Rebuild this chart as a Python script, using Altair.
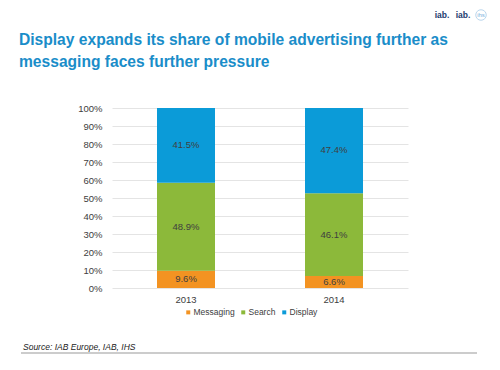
import altair as alt
import pandas as pd

years = ["2013", "2014"]
categories = ["Messaging", "Search", "Display"]
messaging = [9.6, 6.6]
search = [48.9, 46.1]
display = [41.5, 47.4]
colors = ["#f39322", "#8cb93a", "#0b9bd8"]
y_ticks = [0, 10, 20, 30, 40, 50, 60, 70, 80, 90, 100]
title_lines = ["Display expands its share of mobile advertising further as",
               "messaging faces further pressure"]

rows = []
for i, yr in enumerate(years):
    for j, (cat, vals) in enumerate(zip(categories, [messaging, search, display])):
        rows.append({"year": yr, "category": cat, "value": vals[i], "order": j})
df = pd.DataFrame(rows)

FONT = "Liberation Sans"

x_axis = alt.Axis(labelAngle=0, domain=False, ticks=False, labelPadding=6, grid=False,
                  labelFontSize=9.5, labelColor="#404040", labelFont=FONT, title=None)
y_axis = alt.Axis(values=y_ticks, labelExpr="datum.value + '%'", domain=False,
                  ticks=False, labelPadding=10, grid=True, gridColor="#e4e4e4",
                  labelOverlap=False, labelFontSize=9.5, labelColor="#404040",
                  labelFont=FONT, title=None)
y_scale = alt.Scale(domain=[0, 100], clamp=True, nice=False)
x_scale = alt.Scale(paddingInner=0, paddingOuter=0)

base = alt.Chart(df)

bars = base.mark_bar(width=58).encode(
    x=alt.X("year:N", scale=x_scale, axis=x_axis),
    y=alt.Y("value:Q", stack="zero", scale=y_scale, axis=y_axis),
    color=alt.Color("category:N", sort=categories,
                    scale=alt.Scale(domain=categories, range=colors),
                    legend=alt.Legend(title=None, orient="none", direction="horizontal",
                                      legendX=72, legendY=200, symbolType="square",
                                      symbolSize=16, labelFontSize=8.5, labelColor="#404040",
                                      labelFont=FONT, columnPadding=4, labelOffset=1)),
    order=alt.Order("order:Q"),
)

labels = base.transform_stack(
    stack="value", groupby=["year"], sort=[alt.SortField("order")], as_=["y0", "y1"]
).transform_calculate(
    mid="(datum.y0 + datum.y1) / 2",
    label="format(datum.value, '.1f') + '%'",
).mark_text(fontSize=9.5, color="#404040", font=FONT).encode(
    x=alt.X("year:N", scale=x_scale, axis=x_axis),
    y=alt.Y("mid:Q", scale=y_scale, axis=y_axis),
    text="label:N",
)

title1 = alt.Chart(pd.DataFrame({"t": [title_lines[0]]})).mark_text(
    align="left", baseline="middle", fontSize=15.6, fontWeight="bold", color="#1a8dc9", font=FONT
).encode(x=alt.value(-93), y=alt.value(-68), text="t:N")
title2 = alt.Chart(pd.DataFrame({"t": [title_lines[1]]})).mark_text(
    align="left", baseline="middle", fontSize=15.6, fontWeight="bold", color="#1a8dc9", font=FONT
).encode(x=alt.value(-93), y=alt.value(-46), text="t:N")

src_df = pd.DataFrame({"t": ["Source: IAB Europe, IAB, IHS"]})
source = alt.Chart(src_df).mark_text(
    align="left", baseline="middle", fontSize=8.5, fontStyle="italic", color="#222222", font=FONT
).encode(x=alt.value(-89), y=alt.value(239), text="t:N")

rule = alt.Chart(src_df).mark_rule(color="#999999", strokeWidth=1).encode(
    x=alt.value(-91), x2=alt.value(365), y=alt.value(245)
)

logo1 = alt.Chart(pd.DataFrame({"t": ["iab."]})).mark_text(
    align="center", baseline="middle", fontSize=8.5, fontWeight="bold", color="#1c3a6e", font=FONT
).encode(x=alt.value(330), y=alt.value(-93), text="t:N")
logo2 = alt.Chart(pd.DataFrame({"t": ["iab."]})).mark_text(
    align="center", baseline="middle", fontSize=8.5, fontWeight="bold", color="#1c3a6e", font=FONT
).encode(x=alt.value(351), y=alt.value(-93), text="t:N")

ihs_df = pd.DataFrame({"t": ["ihs"]})
ihs_circle = alt.Chart(ihs_df).mark_point(
    shape="circle", size=110, color="#9ec6e6", strokeWidth=1
).encode(x=alt.value(369), y=alt.value(-93))
ihs_text = alt.Chart(ihs_df).mark_text(
    fontSize=6, color="#7fb2dc", font=FONT
).encode(x=alt.value(369), y=alt.value(-93), text="t:N")

chart = alt.layer(bars, labels, title1, title2, source, rule, logo1, logo2,
                  ihs_circle, ihs_text).properties(
    width=296,
    height=180,
    background="white",
    autosize=alt.AutoSizeParams(type="none"),
    padding={"left": 104, "top": 100, "right": 84, "bottom": 74},
).configure_view(stroke="transparent", strokeWidth=0)

chart.save("out.html", embed_options={"renderer": "svg", "actions": False})
